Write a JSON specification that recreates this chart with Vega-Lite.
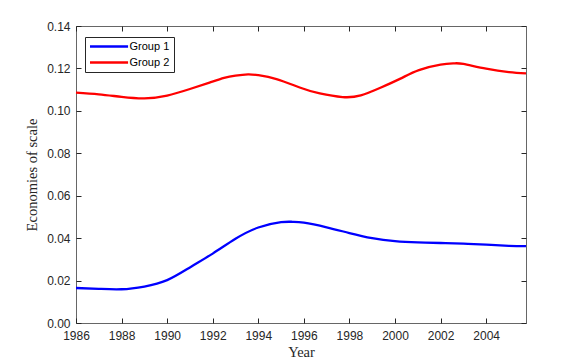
{
  "$schema": "https://vega.github.io/schema/vega-lite/v6.json",
  "width": 450,
  "height": 297,
  "autosize": {"type": "none"},
  "padding": {"left": 76, "top": 26, "right": 55, "bottom": 40},
  "background": "white",
  "config": {
    "view": {"stroke": "#666666", "strokeWidth": 1},
    "axis": {
      "domain": false,
      "grid": false,
      "labelFlush": false,
      "labelOverlap": false,
      "tickColor": "#262626",
      "tickSize": -5,
      "labelFont": "Liberation Sans",
      "labelFontSize": 12,
      "labelColor": "#262626",
      "titleFont": "Liberation Serif",
      "titleFontSize": 14.5,
      "titleFontWeight": "normal",
      "titleColor": "#262626"
    }
  },
  "data": {
    "values": [
      {"year": 1986, "value": 0.0165, "group": "Group 1"},
      {"year": 1987, "value": 0.0161, "group": "Group 1"},
      {"year": 1988, "value": 0.0159, "group": "Group 1"},
      {"year": 1989, "value": 0.0172, "group": "Group 1"},
      {"year": 1990, "value": 0.0202, "group": "Group 1"},
      {"year": 1991, "value": 0.0262, "group": "Group 1"},
      {"year": 1992, "value": 0.0327, "group": "Group 1"},
      {"year": 1993, "value": 0.0397, "group": "Group 1"},
      {"year": 1994, "value": 0.0450, "group": "Group 1"},
      {"year": 1995, "value": 0.0475, "group": "Group 1"},
      {"year": 1995.5, "value": 0.0477, "group": "Group 1"},
      {"year": 1996, "value": 0.0473, "group": "Group 1"},
      {"year": 1997, "value": 0.0451, "group": "Group 1"},
      {"year": 1998, "value": 0.0424, "group": "Group 1"},
      {"year": 1999, "value": 0.0400, "group": "Group 1"},
      {"year": 2000, "value": 0.0386, "group": "Group 1"},
      {"year": 2001, "value": 0.0380, "group": "Group 1"},
      {"year": 2002, "value": 0.0377, "group": "Group 1"},
      {"year": 2003, "value": 0.0374, "group": "Group 1"},
      {"year": 2004, "value": 0.0369, "group": "Group 1"},
      {"year": 2005, "value": 0.0364, "group": "Group 1"},
      {"year": 2005.75, "value": 0.0362, "group": "Group 1"},
      {"year": 1986, "value": 0.1086, "group": "Group 2"},
      {"year": 1987, "value": 0.1078, "group": "Group 2"},
      {"year": 1988, "value": 0.1066, "group": "Group 2"},
      {"year": 1989, "value": 0.1059, "group": "Group 2"},
      {"year": 1990, "value": 0.1072, "group": "Group 2"},
      {"year": 1991, "value": 0.1103, "group": "Group 2"},
      {"year": 1991.86, "value": 0.1133, "group": "Group 2"},
      {"year": 1992.5, "value": 0.1155, "group": "Group 2"},
      {"year": 1993, "value": 0.1166, "group": "Group 2"},
      {"year": 1993.55, "value": 0.1172, "group": "Group 2"},
      {"year": 1994, "value": 0.1168, "group": "Group 2"},
      {"year": 1994.8, "value": 0.1150, "group": "Group 2"},
      {"year": 1995.85, "value": 0.1109, "group": "Group 2"},
      {"year": 1996.7, "value": 0.1082, "group": "Group 2"},
      {"year": 1997.7, "value": 0.1065, "group": "Group 2"},
      {"year": 1998.5, "value": 0.1073, "group": "Group 2"},
      {"year": 1999.36, "value": 0.1109, "group": "Group 2"},
      {"year": 2000.24, "value": 0.1152, "group": "Group 2"},
      {"year": 2001.05, "value": 0.1192, "group": "Group 2"},
      {"year": 2002, "value": 0.1218, "group": "Group 2"},
      {"year": 2002.6, "value": 0.1224, "group": "Group 2"},
      {"year": 2003, "value": 0.1221, "group": "Group 2"},
      {"year": 2004, "value": 0.1199, "group": "Group 2"},
      {"year": 2005, "value": 0.1183, "group": "Group 2"},
      {"year": 2005.75, "value": 0.1177, "group": "Group 2"}
    ]
  },
  "layer": [
    {
      "mark": {"type": "line", "interpolate": "natural", "strokeWidth": 2.3},
      "encoding": {
        "x": {
          "field": "year", "type": "quantitative",
          "scale": {"domain": [1986, 2005.75], "nice": false, "zero": false},
          "axis": {"values": [1986, 1988, 1990, 1992, 1994, 1996, 1998, 2000, 2002, 2004], "format": "d", "labelPadding": 12, "title": "Year", "titlePadding": 4}
        },
        "y": {
          "field": "value", "type": "quantitative",
          "scale": {"domain": [0, 0.14], "nice": false},
          "axis": {"values": [0, 0.02, 0.04, 0.06, 0.08, 0.1, 0.12, 0.14], "format": ".2f", "labelPadding": 11, "title": "Economies of scale", "titlePadding": 7}
        },
        "color": {
          "field": "group", "type": "nominal",
          "scale": {"domain": ["Group 1", "Group 2"], "range": ["#0000ff", "#ff0000"]},
          "legend": {
            "orient": "none", "legendX": 9, "legendY": 11, "title": null,
            "symbolType": "M0,0H10", "symbolSize": 58, "symbolStrokeWidth": 2.3, "symbolOffset": -4.5,
            "labelFont": "Liberation Sans", "labelFontSize": 11, "labelColor": "#000000", "labelOffset": 34,
            "strokeColor": "#262626", "fillColor": "white", "padding": 4, "rowPadding": 4
          }
        }
      }
    },
    {
      "mark": {"type": "line", "opacity": 0},
      "encoding": {
        "x": {"field": "year", "type": "quantitative", "axis": {"orient": "top", "values": [1986, 1988, 1990, 1992, 1994, 1996, 1998, 2000, 2002, 2004], "labels": false, "title": null}},
        "y": {"field": "value", "type": "quantitative", "axis": {"orient": "right", "values": [0, 0.02, 0.04, 0.06, 0.08, 0.1, 0.12, 0.14], "labels": false, "title": null}},
        "detail": {"field": "group"}
      }
    }
  ],
  "resolve": {"axis": {"x": "independent", "y": "independent"}}
}
